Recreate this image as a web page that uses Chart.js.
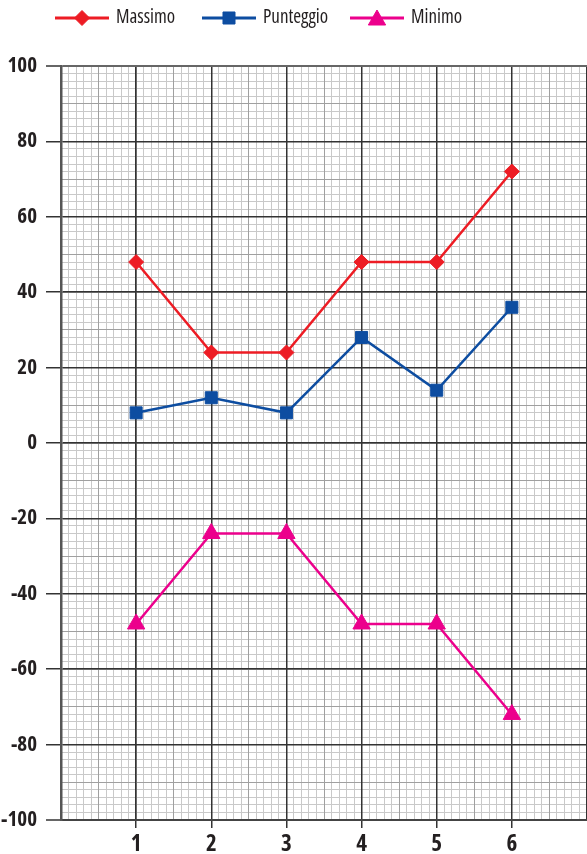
<!DOCTYPE html>
<html><head><meta charset="utf-8">
<script src="https://cdn.jsdelivr.net/npm/chart.js@4"></script>
<style>html,body{margin:0;padding:0;background:#fff;}#wrap{width:587px;height:854px;position:relative;}</style>
</head><body><div id="wrap"><canvas id="c" width="587" height="854"></canvas></div>
<script>
const categories = [1, 2, 3, 4, 5, 6];
const massimo = [48, 24, 24, 48, 48, 72];
const punteggio = [8, 12, 8, 28, 14, 36];
const minimo = [-48, -24, -24, -48, -48, -72];
const seriesNames = ['Massimo', 'Punteggio', 'Minimo'];
const xTickLabels = ['1', '2', '3', '4', '5', '6'];
const yTickLabels = ['100', '80', '60', '40', '20', '0', '-20', '-40', '-60', '-80', '-100'];

const FONT = "'Open Sans', 'Roboto Condensed', sans-serif";
const near = (a, b) => Math.abs(a - b) < 1e-6;

function toPts(vals) { return categories.map((c, i) => ({ x: c, y: vals[i] })); }

function zeroX(s) { s.height = 0; s.paddingLeft = 0; s.paddingRight = 0; }
function zeroY(s) { s.width = 0; s.paddingTop = 0; s.paddingBottom = 0; }

function gridScale(axis, step, color, width, z) {
  const isX = axis === 'x';
  return {
    type: 'linear', axis: axis, position: isX ? 'bottom' : 'left',
    min: isX ? 0 : -100, max: isX ? 7 : 100, z: z,
    afterFit: isX ? zeroX : zeroY,
    ticks: { display: false, stepSize: step, autoSkip: false },
    grid: { color: color, lineWidth: width, drawTicks: false, tickLength: 0 },
    border: { display: false }
  };
}

const legendPlugin = {
  id: 'customLegend',
  afterDraw(chart) {
    const ctx = chart.ctx;
    const starts = [55, 202, 350];
    const y = 18;
    ctx.save();
    chart.data.datasets.forEach((ds, i) => {
      const x0 = starts[i];
      ctx.strokeStyle = ds.borderColor;
      ctx.lineWidth = 3;
      ctx.beginPath();
      ctx.moveTo(x0, y);
      ctx.lineTo(x0 + 54, y);
      ctx.stroke();
      ctx.fillStyle = ds.borderColor;
      ctx.strokeStyle = ds.borderColor;
      ctx.lineWidth = 1;
      Chart.helpers.drawPoint(ctx, { pointStyle: ds.pointStyle, radius: ds.pointRadius, rotation: 0, borderWidth: 1 }, x0 + 27, ds.pointStyle === 'triangle' ? y + 2 : y);
      ctx.fillStyle = '#231f20';
      ctx.font = "500 condensed 19px " + FONT;
      ctx.textBaseline = 'middle';
      ctx.textAlign = 'left';
      ctx.fillText(seriesNames[i], x0 + 61, y);
    });
    ctx.restore();
  }
};

new Chart(document.getElementById('c'), {
  type: 'line',
  data: {
    datasets: [
      { label: seriesNames[0], data: toPts(massimo), borderColor: '#ed1c24', backgroundColor: '#ed1c24', borderWidth: 2.5, pointStyle: 'rectRot', pointRadius: 7.5, pointBorderWidth: 1, tension: 0 },
      { label: seriesNames[1], data: toPts(punteggio), borderColor: '#0d4da1', backgroundColor: '#0d4da1', borderWidth: 2.5, pointStyle: 'rect', pointRadius: 8.5, pointBorderWidth: 1, tension: 0 },
      { label: seriesNames[2], data: toPts(minimo), borderColor: '#ec008c', backgroundColor: '#ec008c', borderWidth: 2.5, pointStyle: 'triangle', pointRadius: 10, pointBorderWidth: 1, tension: 0 }
    ]
  },
  options: {
    responsive: false,
    animation: false,
    layout: { autoPadding: false, padding: { top: 66, right: 0, left: 0, bottom: 0 } },
    plugins: { legend: { display: false }, tooltip: { enabled: false } },
    scales: {
      xMinor: gridScale('x', 0.1, '#c9c9c9', 1, -4),
      yMinor: gridScale('y', 2, '#c9c9c9', 1, -4),
      xMid: gridScale('x', 0.5, '#a0a0a0', 1, -3),
      yMid: gridScale('y', 10, '#a0a0a0', 1, -3),
      x: {
        type: 'linear', min: 0, max: 7, z: -1,
        afterFit(s) { s.height = 34; s.paddingLeft = 0; s.paddingRight = 0; },
        ticks: {
          stepSize: 1, autoSkip: false, maxRotation: 0, minRotation: 0, padding: 3,
          color: '#231f20', font: { family: FONT, size: 23, weight: 'bold condensed' },
          callback(v) { const r = Math.round(v); return (r >= 1 && r <= 6) ? xTickLabels[r - 1] : ''; }
        },
        grid: {
          color(ctx) { return near(ctx.tick.value, 0) ? '#555555' : '#333333'; },
          lineWidth: 1.5, tickLength: 8,
          tickColor(ctx) { const v = ctx.tick.value; return (v >= 1 && v <= 6) ? '#333333' : 'rgba(0,0,0,0)'; },
          tickWidth: 1.5
        },
        border: { display: true, color: '#444444', width: 2 }
      },
      y: {
        type: 'linear', min: -100, max: 100, z: -1,
        afterFit(s) { s.width = 61; s.paddingTop = 0; s.paddingBottom = 0; },
        ticks: {
          stepSize: 20, autoSkip: false, padding: 9,
          color: '#231f20', font: { family: FONT, size: 21, weight: 'bold condensed' },
          callback(v) { const s = String(Math.round(v)); return yTickLabels.includes(s) ? s : ''; }
        },
        grid: {
          color(ctx) { const v = ctx.tick.value; return near(v, 100) ? '#666666' : (near(v, -100) ? '#444444' : '#333333'); },
          lineWidth(ctx) { const v = ctx.tick.value; return (near(v, 100) || near(v, -100)) ? 2 : 1.5; },
          tickLength: 15, tickColor: '#333333', tickWidth: 1.5
        },
        border: { display: true, color: '#555555', width: 2.5 }
      }
    }
  },
  plugins: [legendPlugin]
});
</script></body></html>
